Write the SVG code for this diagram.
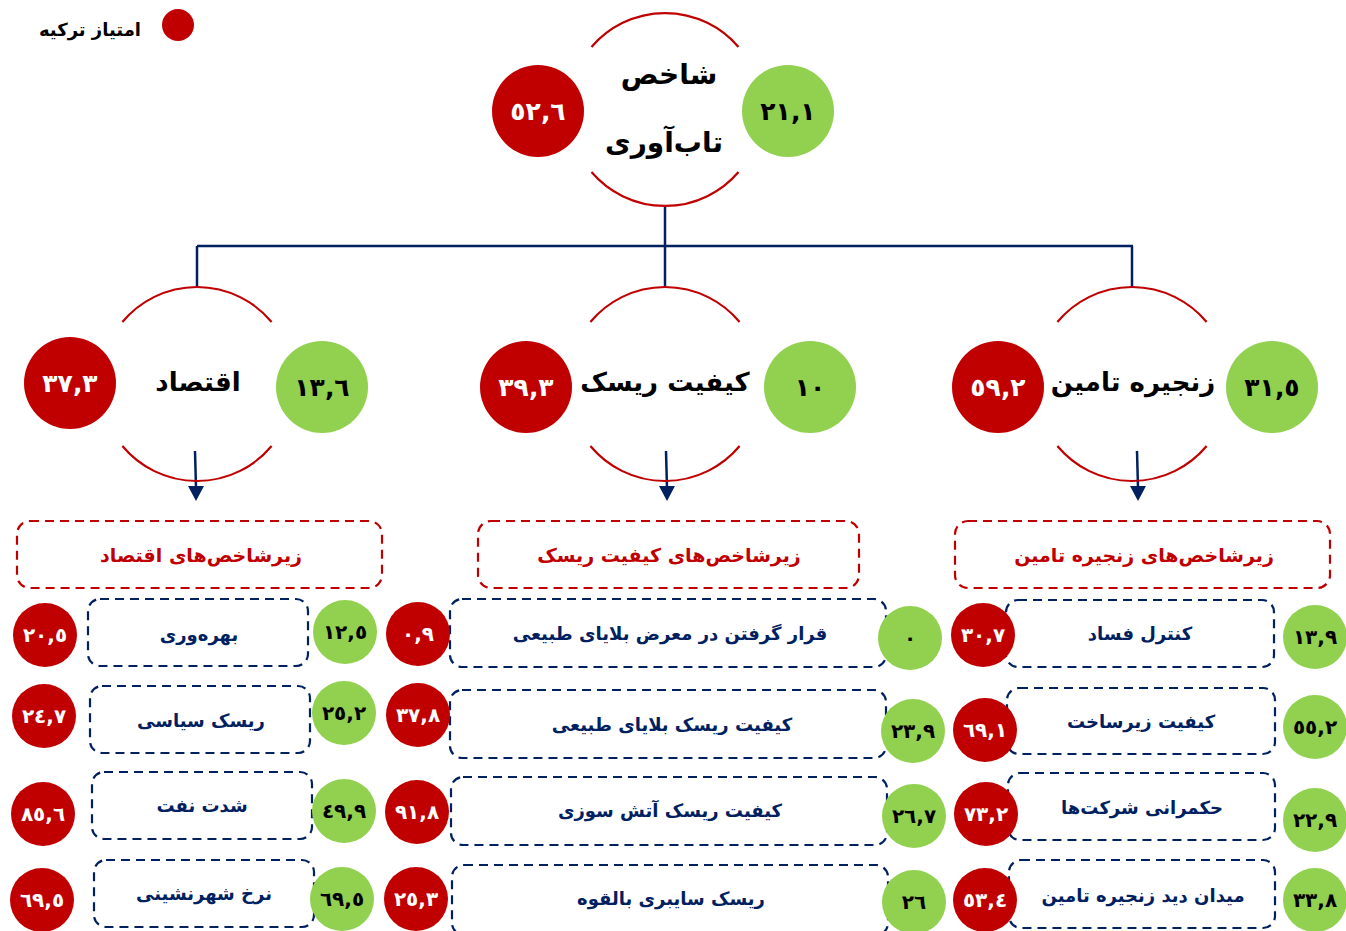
<svg xmlns="http://www.w3.org/2000/svg" width="1346" height="931" viewBox="0 0 1346 931">
<defs>
<style>
.arc{fill:none;stroke:#C00000;stroke-width:2.2}
.red{fill:#C00000}
.grn{fill:#92D050}
.big{font-family:"DejaVu Sans",sans-serif;font-weight:bold;font-size:28px;fill:#000;text-anchor:middle}
.mid{font-family:"DejaVu Sans",sans-serif;font-weight:bold;font-size:26px;fill:#000;text-anchor:middle}
.nw{font-family:"DejaVu Sans",sans-serif;font-weight:bold;font-size:25px;fill:#fff;text-anchor:middle}
.nb{font-family:"DejaVu Sans",sans-serif;font-weight:bold;font-size:25px;fill:#000;text-anchor:middle}
.sw{font-family:"DejaVu Sans",sans-serif;font-weight:bold;font-size:20px;fill:#fff;text-anchor:middle}
.sb{font-family:"DejaVu Sans",sans-serif;font-weight:bold;font-size:20px;fill:#000;text-anchor:middle}
.hdr{fill:none;stroke:#C00000;stroke-width:2.2;stroke-dasharray:9 6}
.hdt{font-family:"DejaVu Sans",sans-serif;font-weight:bold;font-size:19px;fill:#C00000;text-anchor:middle}
.box{fill:none;stroke:#002060;stroke-width:2.2;stroke-dasharray:9 6}
.bxt{font-family:"DejaVu Sans",sans-serif;font-weight:bold;font-size:18px;fill:#002060;text-anchor:middle}
.ln{fill:none;stroke:#002060;stroke-width:2.5}
.leg{font-family:"DejaVu Sans",sans-serif;font-weight:bold;font-size:18px;fill:#000;text-anchor:end}
</style>
</defs>
<rect width="1346" height="931" fill="#fff"/>

<g id="legend">
<circle cx="178" cy="25" r="16" class="red"/>
<text x="141" y="36" class="leg">امتیاز ترکیه</text>
</g>

<g id="connectors">
<line x1="665" y1="206" x2="665" y2="246" class="ln"/>
<line x1="197" y1="246" x2="1133" y2="246" class="ln"/>
<line x1="197" y1="246" x2="197" y2="287" class="ln"/>
<line x1="665" y1="246" x2="665" y2="287" class="ln"/>
<line x1="1132" y1="246" x2="1132" y2="287" class="ln"/>
<line x1="195" y1="451" x2="196" y2="488" class="ln"/>
<path d="M188,486 L204,486 L196,501 Z" fill="#002060"/>
<line x1="666" y1="451" x2="667" y2="488" class="ln"/>
<path d="M659,486 L675,486 L667,501 Z" fill="#002060"/>
<line x1="1137" y1="451" x2="1138" y2="488" class="ln"/>
<path d="M1130,486 L1146,486 L1138,501 Z" fill="#002060"/>
</g>

<g id="node-root">
<path d="M591.5,47 A96.5,96.5 0 0 1 738.5,47" class="arc"/>
<path d="M591.5,172 A96.5,96.5 0 0 0 738.5,172" class="arc"/>
<circle cx="538" cy="111" r="46" class="red"/>
<circle cx="788" cy="111" r="46" class="grn"/>
<text x="538" y="120" class="nw">٥٢,٦</text>
<text x="788" y="120" class="nb">٢١,١</text>
<text x="669" y="84" class="big">شاخص</text>
<text x="664" y="152" class="big">تاب&#x200C;آوری</text>
</g>

<g id="node-economy">
<path d="M122.4,322 A97,97 0 0 1 271.6,322" class="arc"/>
<path d="M122.4,446 A97,97 0 0 0 271.6,446" class="arc"/>
<circle cx="70" cy="383" r="46" class="red"/>
<circle cx="322" cy="387" r="46" class="grn"/>
<text x="70" y="392" class="nw">٣٧,٣</text>
<text x="322" y="396" class="nb">١٣,٦</text>
<text x="198" y="391" class="mid">اقتصاد</text>
</g>

<g id="node-risk">
<path d="M590.4,322 A97,97 0 0 1 739.6,322" class="arc"/>
<path d="M590.4,446 A97,97 0 0 0 739.6,446" class="arc"/>
<circle cx="526" cy="387" r="46" class="red"/>
<circle cx="810" cy="387" r="46" class="grn"/>
<text x="526" y="396" class="nw">٣٩,٣</text>
<text x="810" y="396" class="nb">١٠</text>
<text x="665" y="391" class="mid">کیفیت ریسک</text>
</g>

<g id="node-supply">
<path d="M1057.4,322 A97,97 0 0 1 1206.6,322" class="arc"/>
<path d="M1057.4,446 A97,97 0 0 0 1206.6,446" class="arc"/>
<circle cx="998" cy="387" r="46" class="red"/>
<circle cx="1272" cy="387" r="46" class="grn"/>
<text x="998" y="396" class="nw">٥٩,٢</text>
<text x="1272" y="396" class="nb">٣١,٥</text>
<text x="1133" y="391" class="mid">زنجیره تامین</text>
</g>

<g id="header-economy">
<rect x="17" y="521" width="365" height="67" rx="13" class="hdr"/>
<text x="201" y="562" class="hdt">زیرشاخص&#x200C;های اقتصاد</text>
</g>
<g id="header-risk">
<rect x="478" y="521" width="381" height="67" rx="13" class="hdr"/>
<text x="669" y="562" class="hdt">زیرشاخص&#x200C;های کیفیت ریسک</text>
</g>
<g id="header-supply">
<rect x="955" y="521" width="375" height="67" rx="13" class="hdr"/>
<text x="1144" y="562" class="hdt">زیرشاخص&#x200C;های زنجیره تامین</text>
</g>

<g id="economy-items">
<rect x="88" y="599" width="220" height="67" rx="12" class="box"/>
<rect x="90" y="686" width="220" height="67" rx="12" class="box"/>
<rect x="92" y="772" width="220" height="67" rx="12" class="box"/>
<rect x="94" y="860" width="220" height="67" rx="12" class="box"/>
<text x="199" y="641" class="bxt">بهره&#x200C;وری</text>
<text x="201" y="727" class="bxt">ریسک سیاسی</text>
<text x="202" y="812" class="bxt">شدت نفت</text>
<text x="204" y="900" class="bxt">نرخ شهرنشینی</text>
<circle cx="45" cy="635" r="32" class="red"/><text x="45" y="642" class="sw">٢٠,٥</text>
<circle cx="44" cy="716" r="32" class="red"/><text x="44" y="723" class="sw">٢٤,٧</text>
<circle cx="43" cy="814" r="32" class="red"/><text x="43" y="821" class="sw">٨٥,٦</text>
<circle cx="42" cy="900" r="32" class="red"/><text x="42" y="907" class="sw">٦٩,٥</text>
<circle cx="345" cy="632" r="32" class="grn"/><text x="345" y="639" class="sb">١٢,٥</text>
<circle cx="344" cy="713" r="32" class="grn"/><text x="344" y="720" class="sb">٢٥,٢</text>
<circle cx="344" cy="811" r="32" class="grn"/><text x="344" y="818" class="sb">٤٩,٩</text>
<circle cx="342" cy="899" r="32" class="grn"/><text x="342" y="906" class="sb">٦٩,٥</text>
</g>

<g id="risk-items">
<rect x="450" y="599" width="436" height="68" rx="12" class="box"/>
<rect x="450" y="690" width="436" height="68" rx="12" class="box"/>
<rect x="451" y="777" width="436" height="68" rx="12" class="box"/>
<rect x="452" y="865" width="436" height="70" rx="12" class="box"/>
<text x="670" y="640" class="bxt">قرار گرفتن در معرض بلایای طبیعی</text>
<text x="672" y="731" class="bxt">کیفیت ریسک بلایای طبیعی</text>
<text x="670" y="817" class="bxt">کیفیت ریسک آتش سوزی</text>
<text x="671" y="905" class="bxt">ریسک سایبری بالقوه</text>
<circle cx="418" cy="634" r="32" class="red"/><text x="418" y="641" class="sw">٠,٩</text>
<circle cx="418" cy="715" r="32" class="red"/><text x="418" y="722" class="sw">٣٧,٨</text>
<circle cx="417" cy="812" r="32" class="red"/><text x="417" y="819" class="sw">٩١,٨</text>
<circle cx="416" cy="899" r="32" class="red"/><text x="416" y="906" class="sw">٢٥,٣</text>
<circle cx="910" cy="638" r="32" class="grn"/><text x="910" y="645" class="sb">٠</text>
<circle cx="913" cy="731" r="32" class="grn"/><text x="913" y="738" class="sb">٢٣,٩</text>
<circle cx="914" cy="816" r="32" class="grn"/><text x="914" y="823" class="sb">٢٦,٧</text>
<circle cx="914" cy="902" r="32" class="grn"/><text x="914" y="909" class="sb">٢٦</text>
</g>

<g id="supply-items">
<rect x="1006" y="600" width="268" height="67" rx="12" class="box"/>
<rect x="1007" y="688" width="268" height="66" rx="12" class="box"/>
<rect x="1008" y="773" width="267" height="67" rx="12" class="box"/>
<rect x="1009" y="860" width="266" height="68" rx="12" class="box"/>
<text x="1140" y="640" class="bxt">کنترل فساد</text>
<text x="1141" y="728" class="bxt">کیفیت زیرساخت</text>
<text x="1142" y="814" class="bxt">حکمرانی شرکت&#x200C;ها</text>
<text x="1143" y="902" class="bxt">میدان دید زنجیره تامین</text>
<circle cx="983" cy="635" r="32" class="red"/><text x="983" y="642" class="sw">٣٠,٧</text>
<circle cx="985" cy="730" r="32" class="red"/><text x="985" y="737" class="sw">٦٩,١</text>
<circle cx="986" cy="814" r="32" class="red"/><text x="986" y="821" class="sw">٧٣,٢</text>
<circle cx="985" cy="900" r="32" class="red"/><text x="985" y="907" class="sw">٥٣,٤</text>
<circle cx="1315" cy="637" r="32" class="grn"/><text x="1315" y="644" class="sb">١٣,٩</text>
<circle cx="1315" cy="727" r="32" class="grn"/><text x="1315" y="734" class="sb">٥٥,٢</text>
<circle cx="1315" cy="820" r="32" class="grn"/><text x="1315" y="827" class="sb">٢٢,٩</text>
<circle cx="1315" cy="900" r="32" class="grn"/><text x="1315" y="907" class="sb">٣٣,٨</text>
</g>
</svg>
